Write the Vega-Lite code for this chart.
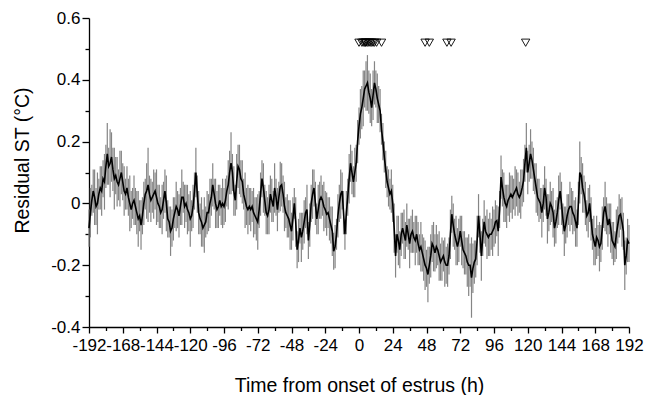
{
"$schema": "https://vega.github.io/schema/vega-lite/v6.json",
"width": 540, "height": 309,
"autosize": "none",
"padding": {"left": 89, "top": 18, "right": 17, "bottom": 68},
"background": "white",
"config": {
  "view": {"stroke": null},
  "font": "Liberation Sans",
  "axis": {"grid": false, "domainColor": "black", "tickColor": "black", "labelColor": "black", "titleColor": "black",
    "labelFont": "Liberation Sans", "titleFont": "Liberation Sans", "labelFontSize": 17, "titleFontSize": 19.5,
    "titleFontWeight": "normal", "domainWidth": 1.3, "tickWidth": 1.3, "labelOverlap": false}
},
"datasets": {
"series": [
{"t":-192,"m":-0.08,"e":0.06},{"t":-191,"m":-0.03,"e":0.08},{"t":-190,"m":0.01,"e":0.05},{"t":-189,"m":0.04,"e":0.07},{"t":-188,"m":0.02,"e":0.09},{"t":-187,"m":-0.01,"e":0.06},{"t":-186,"m":0.0,"e":0.1},{"t":-185,"m":0.03,"e":0.05},{"t":-184,"m":0.05,"e":0.07},{"t":-183,"m":0.04,"e":0.08},{"t":-182,"m":0.08,"e":0.06},{"t":-181,"m":0.07,"e":0.09},{"t":-180,"m":0.12,"e":0.07},{"t":-179,"m":0.16,"e":0.1},{"t":-178,"m":0.12,"e":0.06},{"t":-177,"m":0.13,"e":0.11},{"t":-176,"m":0.15,"e":0.08},{"t":-175,"m":0.11,"e":0.07},{"t":-174,"m":0.08,"e":0.1},{"t":-173,"m":0.09,"e":0.06},{"t":-172,"m":0.07,"e":0.08},{"t":-171,"m":0.06,"e":0.05},{"t":-170,"m":0.08,"e":0.09},{"t":-169,"m":0.1,"e":0.07},{"t":-168,"m":0.07,"e":0.06},{"t":-167,"m":0.04,"e":0.08},{"t":-166,"m":0.03,"e":0.05},{"t":-165,"m":0.05,"e":0.07},{"t":-164,"m":0.02,"e":0.06},{"t":-163,"m":0.0,"e":0.09},{"t":-162,"m":-0.02,"e":0.06},{"t":-161,"m":0.0,"e":0.05},{"t":-160,"m":0.01,"e":0.08},{"t":-159,"m":-0.01,"e":0.06},{"t":-158,"m":-0.03,"e":0.07},{"t":-157,"m":-0.05,"e":0.09},{"t":-156,"m":-0.04,"e":0.05},{"t":-155,"m":-0.07,"e":0.08},{"t":-154,"m":-0.04,"e":0.06},{"t":-153,"m":0.0,"e":0.07},{"t":-152,"m":0.03,"e":0.05},{"t":-151,"m":0.04,"e":0.09},{"t":-150,"m":0.06,"e":0.12},{"t":-149,"m":0.03,"e":0.06},{"t":-148,"m":0.01,"e":0.07},{"t":-147,"m":0.02,"e":0.05},{"t":-146,"m":0.03,"e":0.08},{"t":-145,"m":0.04,"e":0.06},{"t":-144,"m":0.02,"e":0.09},{"t":-143,"m":0.0,"e":0.06},{"t":-142,"m":-0.01,"e":0.07},{"t":-141,"m":-0.03,"e":0.05},{"t":-140,"m":-0.02,"e":0.08},{"t":-139,"m":0.01,"e":0.06},{"t":-138,"m":0.04,"e":0.07},{"t":-137,"m":0.0,"e":0.09},{"t":-136,"m":-0.05,"e":0.06},{"t":-135,"m":-0.06,"e":0.05},{"t":-134,"m":-0.09,"e":0.08},{"t":-133,"m":-0.08,"e":0.06},{"t":-132,"m":-0.05,"e":0.07},{"t":-131,"m":-0.03,"e":0.05},{"t":-130,"m":-0.01,"e":0.08},{"t":-129,"m":-0.02,"e":0.06},{"t":-128,"m":-0.04,"e":0.07},{"t":-127,"m":-0.01,"e":0.06},{"t":-126,"m":0.02,"e":0.09},{"t":-125,"m":0.02,"e":0.05},{"t":-124,"m":-0.01,"e":0.07},{"t":-123,"m":0.0,"e":0.06},{"t":-122,"m":-0.02,"e":0.08},{"t":-121,"m":-0.03,"e":0.06},{"t":-120,"m":-0.05,"e":0.09},{"t":-119,"m":-0.04,"e":0.05},{"t":-118,"m":-0.01,"e":0.07},{"t":-117,"m":0.04,"e":0.06},{"t":-116,"m":0.1,"e":0.08},{"t":-115,"m":0.03,"e":0.06},{"t":-114,"m":-0.03,"e":0.07},{"t":-113,"m":-0.05,"e":0.05},{"t":-112,"m":-0.06,"e":0.08},{"t":-111,"m":-0.08,"e":0.06},{"t":-110,"m":-0.07,"e":0.09},{"t":-109,"m":-0.06,"e":0.05},{"t":-108,"m":-0.03,"e":0.07},{"t":-107,"m":-0.03,"e":0.06},{"t":-106,"m":0.0,"e":0.08},{"t":-105,"m":0.02,"e":0.06},{"t":-104,"m":0.06,"e":0.07},{"t":-103,"m":0.03,"e":0.05},{"t":-102,"m":0.0,"e":0.08},{"t":-101,"m":-0.02,"e":0.06},{"t":-100,"m":-0.01,"e":0.07},{"t":-99,"m":0.01,"e":0.05},{"t":-98,"m":-0.01,"e":0.06},{"t":-97,"m":0.0,"e":0.08},{"t":-96,"m":-0.01,"e":0.06},{"t":-95,"m":0.01,"e":0.07},{"t":-94,"m":0.04,"e":0.05},{"t":-93,"m":0.06,"e":0.08},{"t":-92,"m":0.1,"e":0.07},{"t":-91,"m":0.13,"e":0.1},{"t":-90,"m":0.1,"e":0.06},{"t":-89,"m":0.04,"e":0.08},{"t":-88,"m":0.01,"e":0.05},{"t":-87,"m":0.07,"e":0.09},{"t":-86,"m":0.12,"e":0.07},{"t":-85,"m":0.11,"e":0.08},{"t":-84,"m":0.08,"e":0.06},{"t":-83,"m":0.07,"e":0.07},{"t":-82,"m":0.03,"e":0.05},{"t":-81,"m":0.01,"e":0.09},{"t":-80,"m":-0.01,"e":0.06},{"t":-79,"m":-0.02,"e":0.08},{"t":-78,"m":-0.01,"e":0.06},{"t":-77,"m":-0.02,"e":0.07},{"t":-76,"m":-0.01,"e":0.05},{"t":-75,"m":-0.03,"e":0.08},{"t":-74,"m":-0.04,"e":0.06},{"t":-73,"m":-0.05,"e":0.07},{"t":-72,"m":-0.06,"e":0.09},{"t":-71,"m":-0.02,"e":0.06},{"t":-70,"m":0.03,"e":0.07},{"t":-69,"m":0.08,"e":0.06},{"t":-68,"m":0.05,"e":0.08},{"t":-67,"m":0.01,"e":0.05},{"t":-66,"m":-0.03,"e":0.07},{"t":-65,"m":-0.04,"e":0.06},{"t":-64,"m":-0.02,"e":0.08},{"t":-63,"m":0.03,"e":0.06},{"t":-62,"m":0.01,"e":0.07},{"t":-61,"m":-0.01,"e":0.05},{"t":-60,"m":0.05,"e":0.08},{"t":-59,"m":0.02,"e":0.06},{"t":-58,"m":-0.02,"e":0.07},{"t":-57,"m":0.02,"e":0.05},{"t":-56,"m":0.055,"e":0.08},{"t":-55,"m":0.06,"e":0.07},{"t":-54,"m":0.03,"e":0.06},{"t":-53,"m":-0.01,"e":0.08},{"t":-52,"m":-0.03,"e":0.05},{"t":-51,"m":-0.04,"e":0.07},{"t":-50,"m":-0.05,"e":0.06},{"t":-49,"m":-0.07,"e":0.08},{"t":-48,"m":-0.09,"e":0.06},{"t":-47,"m":-0.05,"e":0.07},{"t":-46,"m":0.0,"e":0.05},{"t":-45,"m":-0.06,"e":0.08},{"t":-44,"m":-0.15,"e":0.06},{"t":-43,"m":-0.12,"e":0.07},{"t":-42,"m":-0.08,"e":0.05},{"t":-41,"m":-0.11,"e":0.08},{"t":-40,"m":-0.09,"e":0.06},{"t":-39,"m":-0.06,"e":0.07},{"t":-38,"m":-0.03,"e":0.05},{"t":-37,"m":-0.02,"e":0.08},{"t":-36,"m":-0.12,"e":0.06},{"t":-35,"m":-0.07,"e":0.07},{"t":-34,"m":0.0,"e":0.06},{"t":-33,"m":0.03,"e":0.08},{"t":-32,"m":0.05,"e":0.06},{"t":-31,"m":0.0,"e":0.07},{"t":-30,"m":-0.05,"e":0.05},{"t":-29,"m":-0.02,"e":0.08},{"t":-28,"m":0.01,"e":0.06},{"t":-27,"m":0.02,"e":0.07},{"t":-26,"m":0.01,"e":0.05},{"t":-25,"m":-0.01,"e":0.08},{"t":-24,"m":-0.02,"e":0.06},{"t":-23,"m":-0.035,"e":0.07},{"t":-22,"m":-0.03,"e":0.05},{"t":-21,"m":-0.05,"e":0.07},{"t":-20,"m":-0.07,"e":0.06},{"t":-19,"m":-0.09,"e":0.08},{"t":-18,"m":-0.155,"e":0.06},{"t":-17,"m":-0.14,"e":0.07},{"t":-16,"m":-0.1,"e":0.05},{"t":-15,"m":-0.04,"e":0.07},{"t":-14,"m":0.0,"e":0.06},{"t":-13,"m":0.03,"e":0.08},{"t":-12,"m":0.04,"e":0.06},{"t":-11,"m":-0.03,"e":0.07},{"t":-10,"m":-0.1,"e":0.05},{"t":-9,"m":-0.03,"e":0.07},{"t":-8,"m":0.02,"e":0.06},{"t":-7,"m":0.08,"e":0.08},{"t":-6,"m":0.13,"e":0.06},{"t":-5,"m":0.1,"e":0.07},{"t":-4,"m":0.07,"e":0.05},{"t":-3,"m":0.1,"e":0.08},{"t":-2,"m":0.13,"e":0.06},{"t":-1,"m":0.2,"e":0.07},
{"t":0,"m":0.25,"e":0.06},{"t":1,"m":0.29,"e":0.08},{"t":2,"m":0.31,"e":0.07},{"t":3,"m":0.34,"e":0.09},{"t":4,"m":0.37,"e":0.06},{"t":5,"m":0.38,"e":0.08},{"t":6,"m":0.39,"e":0.09},{"t":7,"m":0.36,"e":0.07},{"t":8,"m":0.34,"e":0.08},{"t":9,"m":0.31,"e":0.06},{"t":10,"m":0.35,"e":0.08},{"t":11,"m":0.39,"e":0.07},{"t":12,"m":0.37,"e":0.06},{"t":13,"m":0.34,"e":0.08},{"t":14,"m":0.32,"e":0.06},{"t":15,"m":0.3,"e":0.07},{"t":16,"m":0.24,"e":0.05},{"t":17,"m":0.2,"e":0.06},{"t":18,"m":0.15,"e":0.05},{"t":19,"m":0.11,"e":0.06},{"t":20,"m":0.07,"e":0.05},{"t":21,"m":0.05,"e":0.06},{"t":22,"m":0.03,"e":0.05},{"t":23,"m":0.04,"e":0.07},{"t":24,"m":0.0,"e":0.06},{"t":25,"m":-0.08,"e":0.08},{"t":26,"m":-0.17,"e":0.07},{"t":27,"m":-0.1,"e":0.06},{"t":28,"m":-0.12,"e":0.08},{"t":29,"m":-0.15,"e":0.06},{"t":30,"m":-0.1,"e":0.07},{"t":31,"m":-0.08,"e":0.05},{"t":32,"m":-0.1,"e":0.08},{"t":33,"m":-0.12,"e":0.06},{"t":34,"m":-0.07,"e":0.07},{"t":35,"m":-0.1,"e":0.05},{"t":36,"m":-0.13,"e":0.08},{"t":37,"m":-0.1,"e":0.06},{"t":38,"m":-0.09,"e":0.07},{"t":39,"m":-0.11,"e":0.05},{"t":40,"m":-0.12,"e":0.08},{"t":41,"m":-0.1,"e":0.06},{"t":42,"m":-0.13,"e":0.07},{"t":43,"m":-0.15,"e":0.05},{"t":44,"m":-0.14,"e":0.08},{"t":45,"m":-0.16,"e":0.06},{"t":46,"m":-0.18,"e":0.07},{"t":47,"m":-0.2,"e":0.08},{"t":48,"m":-0.21,"e":0.06},{"t":49,"m":-0.23,"e":0.09},{"t":50,"m":-0.2,"e":0.06},{"t":51,"m":-0.17,"e":0.07},{"t":52,"m":-0.13,"e":0.06},{"t":53,"m":-0.14,"e":0.08},{"t":54,"m":-0.16,"e":0.06},{"t":55,"m":-0.14,"e":0.07},{"t":56,"m":-0.15,"e":0.05},{"t":57,"m":-0.17,"e":0.08},{"t":58,"m":-0.19,"e":0.06},{"t":59,"m":-0.18,"e":0.07},{"t":60,"m":-0.17,"e":0.05},{"t":61,"m":-0.19,"e":0.08},{"t":62,"m":-0.2,"e":0.06},{"t":63,"m":-0.2,"e":0.07},{"t":64,"m":-0.17,"e":0.06},{"t":65,"m":-0.1,"e":0.08},{"t":66,"m":-0.035,"e":0.06},{"t":67,"m":-0.07,"e":0.07},{"t":68,"m":-0.1,"e":0.05},{"t":69,"m":-0.12,"e":0.08},{"t":70,"m":-0.14,"e":0.06},{"t":71,"m":-0.12,"e":0.07},{"t":72,"m":-0.09,"e":0.05},{"t":73,"m":-0.12,"e":0.08},{"t":74,"m":-0.15,"e":0.06},{"t":75,"m":-0.16,"e":0.07},{"t":76,"m":-0.17,"e":0.06},{"t":77,"m":-0.19,"e":0.08},{"t":78,"m":-0.2,"e":0.1},{"t":79,"m":-0.2,"e":0.07},{"t":80,"m":-0.24,"e":0.13},{"t":81,"m":-0.21,"e":0.08},{"t":82,"m":-0.19,"e":0.07},{"t":83,"m":-0.18,"e":0.06},{"t":84,"m":-0.12,"e":0.08},{"t":85,"m":-0.04,"e":0.07},{"t":86,"m":-0.1,"e":0.06},{"t":87,"m":-0.17,"e":0.08},{"t":88,"m":-0.11,"e":0.06},{"t":89,"m":-0.06,"e":0.07},{"t":90,"m":-0.09,"e":0.05},{"t":91,"m":-0.1,"e":0.08},{"t":92,"m":-0.11,"e":0.06},{"t":93,"m":-0.1,"e":0.07},{"t":94,"m":-0.1,"e":0.05},{"t":95,"m":-0.09,"e":0.08},{"t":96,"m":-0.08,"e":0.06},{"t":97,"m":-0.06,"e":0.07},{"t":98,"m":-0.056,"e":0.05},{"t":99,"m":-0.09,"e":0.08},{"t":100,"m":-0.02,"e":0.06},{"t":101,"m":0.085,"e":0.07},{"t":102,"m":0.05,"e":0.06},{"t":103,"m":0.02,"e":0.08},{"t":104,"m":0.0,"e":0.06},{"t":105,"m":-0.01,"e":0.07},{"t":106,"m":0.01,"e":0.05},{"t":107,"m":0.02,"e":0.08},{"t":108,"m":0.03,"e":0.06},{"t":109,"m":0.02,"e":0.07},{"t":110,"m":0.03,"e":0.05},{"t":111,"m":0.04,"e":0.08},{"t":112,"m":0.05,"e":0.06},{"t":113,"m":0.03,"e":0.07},{"t":114,"m":0.02,"e":0.05},{"t":115,"m":0.03,"e":0.08},{"t":116,"m":0.05,"e":0.06},{"t":117,"m":0.074,"e":0.07},{"t":118,"m":0.13,"e":0.06},{"t":119,"m":0.18,"e":0.08},{"t":120,"m":0.1,"e":0.07},{"t":121,"m":0.13,"e":0.06},{"t":122,"m":0.16,"e":0.08},{"t":123,"m":0.14,"e":0.06},{"t":124,"m":0.11,"e":0.07},{"t":125,"m":0.08,"e":0.05},{"t":126,"m":0.05,"e":0.08},{"t":127,"m":0.02,"e":0.06},{"t":128,"m":0.01,"e":0.07},{"t":129,"m":0.0,"e":0.05},{"t":130,"m":-0.03,"e":0.08},{"t":131,"m":0.0,"e":0.06},{"t":132,"m":0.05,"e":0.07},{"t":133,"m":0.02,"e":0.06},{"t":134,"m":-0.05,"e":0.08},{"t":135,"m":-0.03,"e":0.06},{"t":136,"m":0.0,"e":0.07},{"t":137,"m":-0.01,"e":0.05},{"t":138,"m":-0.03,"e":0.08},{"t":139,"m":-0.08,"e":0.06},{"t":140,"m":-0.06,"e":0.07},{"t":141,"m":-0.03,"e":0.05},{"t":142,"m":0.01,"e":0.08},{"t":143,"m":0.04,"e":0.06},{"t":144,"m":0.0,"e":0.07},{"t":145,"m":-0.05,"e":0.05},{"t":146,"m":-0.09,"e":0.08},{"t":147,"m":-0.07,"e":0.06},{"t":148,"m":-0.04,"e":0.07},{"t":149,"m":-0.02,"e":0.05},{"t":150,"m":-0.01,"e":0.08},{"t":151,"m":-0.01,"e":0.06},{"t":152,"m":-0.03,"e":0.07},{"t":153,"m":-0.04,"e":0.05},{"t":154,"m":-0.06,"e":0.08},{"t":155,"m":-0.08,"e":0.06},{"t":156,"m":0.0,"e":0.07},{"t":157,"m":0.1,"e":0.1},{"t":158,"m":0.09,"e":0.06},{"t":159,"m":0.05,"e":0.08},{"t":160,"m":0.03,"e":0.06},{"t":161,"m":0.0,"e":0.07},{"t":162,"m":-0.04,"e":0.05},{"t":163,"m":-0.03,"e":0.08},{"t":164,"m":0.0,"e":0.06},{"t":165,"m":-0.05,"e":0.07},{"t":166,"m":-0.1,"e":0.05},{"t":167,"m":-0.12,"e":0.08},{"t":168,"m":-0.14,"e":0.06},{"t":169,"m":-0.11,"e":0.07},{"t":170,"m":-0.12,"e":0.05},{"t":171,"m":-0.14,"e":0.08},{"t":172,"m":-0.13,"e":0.06},{"t":173,"m":-0.08,"e":0.07},{"t":174,"m":-0.03,"e":0.05},{"t":175,"m":-0.01,"e":0.08},{"t":176,"m":-0.04,"e":0.06},{"t":177,"m":-0.07,"e":0.07},{"t":178,"m":-0.05,"e":0.05},{"t":179,"m":-0.08,"e":0.08},{"t":180,"m":-0.12,"e":0.06},{"t":181,"m":-0.13,"e":0.07},{"t":182,"m":-0.14,"e":0.05},{"t":183,"m":-0.1,"e":0.08},{"t":184,"m":-0.07,"e":0.06},{"t":185,"m":-0.04,"e":0.07},{"t":186,"m":-0.035,"e":0.05},{"t":187,"m":-0.06,"e":0.08},{"t":188,"m":-0.09,"e":0.06},{"t":189,"m":-0.2,"e":0.08},{"t":190,"m":-0.17,"e":0.06},{"t":191,"m":-0.12,"e":0.07},{"t":192,"m":-0.13,"e":0.06}
],
"onsets": [
{"o":0},{"o":2},{"o":3},{"o":4},{"o":4.5},{"o":5},{"o":6},{"o":7},{"o":8},{"o":9},{"o":10},{"o":11},{"o":12.5},{"o":16},{"o":47},{"o":50},{"o":62.5},{"o":65.5},{"o":118.5}
]
},
"encoding": {
  "x": {"type": "quantitative",
    "scale": {"domain": [-192, 192], "nice": false, "zero": false},
    "axis": {"title": "Time from onset of estrus (h)",
      "values": [-192,-180,-168,-156,-144,-132,-120,-108,-96,-84,-72,-60,-48,-36,-24,-12,0,12,24,36,48,60,72,84,96,108,120,132,144,156,168,180,192],
      "labelExpr": "abs(round(datum.value/12)) % 2 == 0 ? '' + datum.value : ''",
      "tickSize": {"condition": {"test": "abs(round(datum.value/12)) % 2 == 0", "value": 6}, "value": 3.5},
      "labelOverlap": false, "labelFlush": false, "labelBound": false,
      "labelPadding": 4, "titleY": 58, "titleBaseline": "middle"}},
  "y": {"type": "quantitative",
    "scale": {"domain": [-0.4, 0.6], "nice": false, "zero": false},
    "axis": {"title": "Residual ST (°C)",
      "values": [-0.4,-0.3,-0.2,-0.1,0,0.1,0.2,0.3,0.4,0.5,0.6],
      "labelExpr": "abs(round(datum.value*10)) % 2 == 0 ? '' + datum.value : ''",
      "tickSize": {"condition": {"test": "abs(round(datum.value*10)) % 2 == 0", "value": 7}, "value": 4},
      "labelOverlap": false, "labelFlush": false, "labelBound": false,
      "labelPadding": 2, "labelBaseline": "middle",
      "titleX": -67, "titleY": 142, "titleAngle": -90, "titleAlign": "center", "titleBaseline": "middle"}}
},
"layer": [
  {
    "data": {"name": "series"},
    "mark": {"type": "errorbar", "color": "#858585", "thickness": 1.2, "ticks": false},
    "encoding": {
      "x": {"field": "t", "type": "quantitative"},
      "y": {"field": "m", "type": "quantitative"},
      "yError": {"field": "e"}
    }
  },
  {
    "data": {"name": "series"},
    "mark": {"type": "line", "color": "black", "strokeWidth": 1.6},
    "encoding": {
      "x": {"field": "t", "type": "quantitative"},
      "y": {"field": "m", "type": "quantitative"}
    }
  },
  {
    "data": {"name": "onsets"},
    "mark": {"type": "point", "shape": "triangle-down", "filled": false, "stroke": "black", "strokeWidth": 0.9, "size": 70, "opacity": 1},
    "encoding": {
      "x": {"field": "o", "type": "quantitative"},
      "y": {"datum": 0.52}
    }
  }
]
}
